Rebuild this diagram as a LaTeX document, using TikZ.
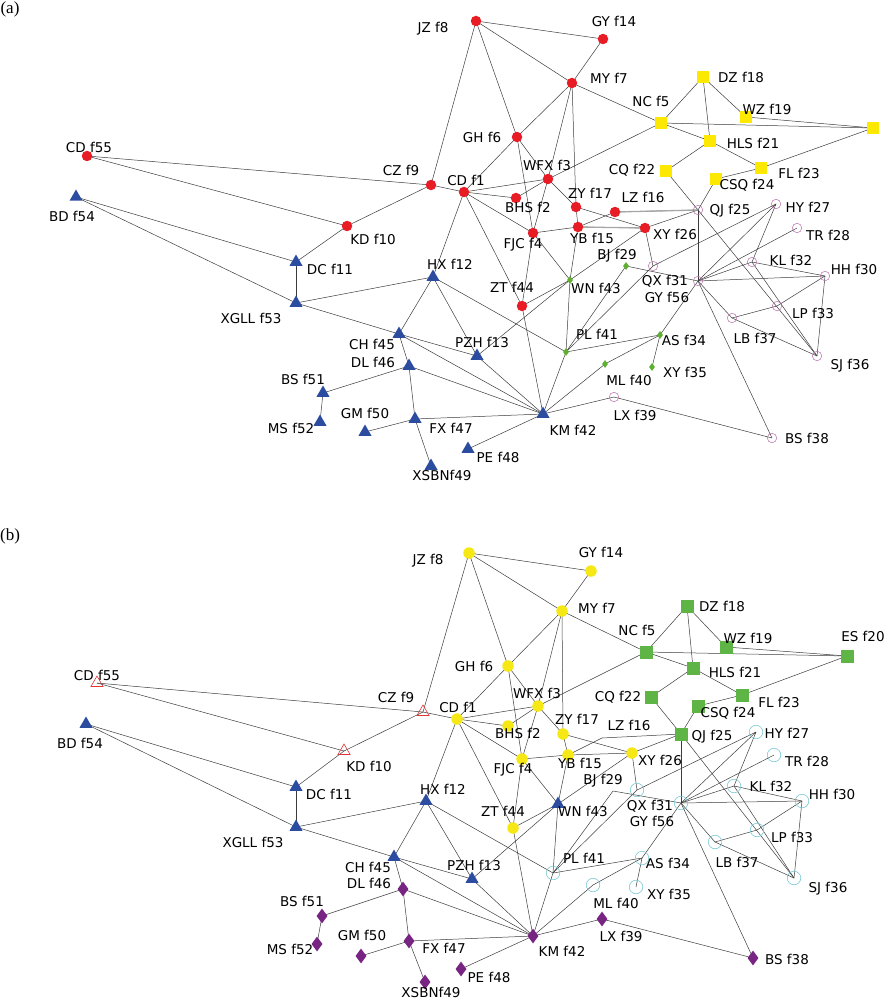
\documentclass[tikz,border=0pt]{standalone}
\usepackage{fontspec}
\newfontfamily\lblfont{DejaVu Sans}
\newfontfamily\panelfont{Liberation Serif}
\usetikzlibrary{shapes.geometric,backgrounds}
\definecolor{edgeGray}{RGB}{60,60,60}
\definecolor{dotRed}{RGB}{232,28,36}
\definecolor{sqYellow}{RGB}{252,232,0}
\definecolor{triBlue}{RGB}{44,76,160}
\definecolor{ringPink}{RGB}{185,110,170}
\definecolor{dmGreen}{RGB}{95,175,50}
\definecolor{dotYellow}{RGB}{246,232,20}
\definecolor{sqGreen}{RGB}{95,180,70}
\definecolor{ringCyan}{RGB}{120,200,212}
\definecolor{dmPurple}{RGB}{120,36,130}
\definecolor{triRed}{RGB}{226,52,52}
\tikzset{
    edge/.style={draw=edgeGray, line width=0.5pt},
    tie/.style={draw=gray!70, line width=1.3pt},
    lbl/.style={font=\lblfont\fontsize{13.5}{14}\selectfont, inner sep=0pt},
    panel/.style={font=\panelfont\fontsize{17}{18}\selectfont, inner sep=0pt},
    % panel (a)
    redDot/.style={circle, fill=dotRed, inner sep=0pt, minimum size=10.5pt},
    yelSq/.style={rectangle, fill=sqYellow, inner sep=0pt, minimum size=12.5pt},
    bluTri/.style={regular polygon, regular polygon sides=3, fill=triBlue, inner sep=0pt, minimum size=15pt},
    pinkRing/.style={circle, draw=ringPink, line width=0.5pt, inner sep=0pt, minimum size=9.5pt},
    grnDm/.style={diamond, fill=dmGreen, inner sep=0pt, minimum width=6pt, minimum height=8pt},
    % panel (b)
    yelDot/.style={circle, fill=dotYellow, inner sep=0pt, minimum size=11.5pt},
    grnSq/.style={rectangle, fill=sqGreen, inner sep=0pt, minimum size=13pt},
    cyanRing/.style={circle, draw=ringCyan, line width=0.6pt, inner sep=0pt, minimum size=13.5pt},
    purDm/.style={diamond, fill=dmPurple, inner sep=0pt, minimum width=11pt, minimum height=15pt},
    redTri/.style={regular polygon, regular polygon sides=3, draw=triRed, line width=0.6pt, inner sep=0pt, minimum size=14pt},
    noMark/.style={inner sep=0pt, minimum size=0pt},
}
% vertex: style, name, position, label position, label
\newcommand{\vtx}[5]{\node[#1] (#2) at (#3) {}; \node[lbl] (#2l) at (#4) {#5};}
% the ties, same in both panels
\newcommand{\netedges}[1]{%
  \foreach \u/\v in {8/14, 8/7, 8/6, 8/9, 14/7, 7/5, 7/6, 7/3, 7/17,
      5/18, 5/20, 5/21, 5/3, 18/19, 18/21, 19/20, 21/22, 21/23, 23/20, 23/24,
      24/25, 22/25, 25/36, 6/1, 6/3, 6/4, 3/1, 3/2, 3/4, 3/17,
      1/2, 1/4, 1/9, 1/12, 1/44, 17/15, 17/26, 16/25, 16/15,
      15/26, 15/4, 15/43, 26/25, 26/31, 26/43, 4/43, 4/44, 44/43, 44/42,
      43/13, 43/41, 41/29, 41/31, 41/34, 41/42, 41/12, 29/56, 31/27,
      56/25, 56/27, 56/28, 56/32, 56/30, 56/37, 56/38, 56/34,
      27/32, 32/30, 32/36, 30/33, 30/36, 33/37, 37/36,
      34/35, 34/40, 40/42, 42/39, 39/38,
      42/45, 42/46, 42/47, 42/48, 42/13,
      9/10, 9/55, 10/55, 10/11, 11/54, 11/53, 53/54, 53/12, 53/45,
      12/45, 12/13, 45/13, 45/46, 46/51, 46/47, 47/50, 47/49, 51/52}
    \draw[edge] (#1\u.center) -- (#1\v.center);
}

\begin{document}
\begin{tikzpicture}[x=1pt, y=-1pt]
\useasboundingbox (0,0) rectangle (884,1000);

%%% (a)
\node[panel] (pa) at (10,9) {(a)};
\vtx{redDot}{a1}{464,192}{466,180}{CD f1}
\vtx{redDot}{a2}{516,198}{528,207}{BHS f2}
\vtx{redDot}{a3}{548,179}{547,165}{WFX f3}
\vtx{redDot}{a4}{533,233}{523,245}{FJC f4}
\vtx{yelSq}{a5}{661,123}{651,101}{NC f5}
\vtx{redDot}{a6}{517,137}{482,137}{GH f6}
\vtx{redDot}{a7}{572,83}{609,78}{MY f7}
\vtx{redDot}{a8}{476,21}{433,29}{JZ f8}
\vtx{redDot}{a9}{431,185}{401,170}{CZ f9}
\vtx{redDot}{a10}{347,226}{373,239}{KD f10}
\vtx{bluTri}{a11}{296,262}{330,269}{DC f11}
\vtx{bluTri}{a12}{433,277}{450,264}{HX f12}
\vtx{bluTri}{a13}{477,356}{482,342}{PZH f13}
\vtx{redDot}{a14}{603,39}{614,21}{GY f14}
\vtx{redDot}{a15}{578,227}{592,238}{YB f15}
\vtx{redDot}{a16}{615,212}{643,197}{LZ f16}
\vtx{redDot}{a17}{576,207}{590,193}{ZY f17}
\vtx{yelSq}{a18}{703,77}{741,77}{DZ f18}
\vtx{yelSq}{a19}{746,117}{767,109}{WZ f19}
\node[yelSq] (a20) at (873,128) {};
\vtx{yelSq}{a21}{710,141}{753,143}{HLS f21}
\vtx{yelSq}{a22}{666,171}{632,170}{CQ f22}
\vtx{yelSq}{a23}{761,168}{799,173}{FL f23}
\vtx{yelSq}{a24}{716,179}{747,185}{CSQ f24}
\vtx{pinkRing}{a25}{698,210}{730,211}{QJ f25}
\vtx{redDot}{a26}{645,228}{675,234}{XY f26}
\vtx{pinkRing}{a27}{776,204}{808,207}{HY f27}
\vtx{pinkRing}{a28}{797,228}{828,235}{TR f28}
\vtx{grnDm}{a29}{626,266}{617,256}{BJ f29}
\vtx{pinkRing}{a30}{825,276}{854,269}{HH f30}
\vtx{pinkRing}{a31}{653,266}{665,281}{QX f31}
\vtx{pinkRing}{a32}{752,262}{791,260}{KL f32}
\vtx{pinkRing}{a33}{777,306}{813,313}{LP f33}
\vtx{grnDm}{a34}{660,335}{684,340}{AS f34}
\vtx{grnDm}{a35}{652,367}{685,372}{XY f35}
\vtx{pinkRing}{a36}{817,356}{850,366}{SJ f36}
\vtx{pinkRing}{a37}{732,318}{755,338}{LB f37}
\vtx{pinkRing}{a38}{772,438}{807,438}{BS f38}
\vtx{pinkRing}{a39}{614,397}{635,415}{LX f39}
\vtx{grnDm}{a40}{605,364}{629,380}{ML f40}
\vtx{grnDm}{a41}{566,352}{597,334}{PL f41}
\vtx{bluTri}{a42}{543,414}{573,430}{KM f42}
\vtx{grnDm}{a43}{570,280}{596,288}{WN f43}
\vtx{redDot}{a44}{522,306}{512,287}{ZT f44}
\vtx{bluTri}{a45}{399,334}{372,344}{CH f45}
\vtx{bluTri}{a46}{409,366}{373,362}{DL f46}
\vtx{bluTri}{a47}{415,419}{451,428}{FX f47}
\vtx{bluTri}{a48}{468,449}{498,457}{PE f48}
\vtx{bluTri}{a49}{431,466}{442,475}{XSBNf49}
\vtx{bluTri}{a50}{365,432}{365,413}{GM f50}
\vtx{bluTri}{a51}{323,393}{303,379}{BS f51}
\vtx{bluTri}{a52}{320,422}{291,428}{MS f52}
\vtx{bluTri}{a53}{296,303}{251,318}{XGLL f53}
\vtx{bluTri}{a54}{76,197}{72,216}{BD f54}
\vtx{redDot}{a55}{87,156}{89,147}{CD f55}
\vtx{pinkRing}{a56}{698,281}{667,297}{GY f56}

%%% (b)
\node[panel] (pb) at (10,536) {(b)};
\vtx{yelDot}{b1}{457,719}{458,707}{CD f1}
\vtx{yelDot}{b2}{508,726}{518,733}{BHS f2}
\vtx{yelDot}{b3}{538,706}{537,693}{WFX f3}
\vtx{yelDot}{b4}{522,759}{513,770}{FJC f4}
\vtx{grnSq}{b5}{646,652}{637,630}{NC f5}
\vtx{yelDot}{b6}{508,666}{474,666}{GH f6}
\vtx{yelDot}{b7}{562,611}{597,608}{MY f7}
\vtx{yelDot}{b8}{469,553}{428,561}{JZ f8}
\vtx{redTri}{b9}{423,712}{396,697}{CZ f9}
\vtx{redTri}{b10}{344,751}{369,766}{KD f10}
\vtx{bluTri}{b11}{296,787}{329,794}{DC f11}
\vtx{bluTri}{b12}{426,801}{443,789}{HX f12}
\vtx{bluTri}{b13}{472,879}{474,865}{PZH f13}
\vtx{yelDot}{b14}{591,571}{601,552}{GY f14}
\vtx{yelDot}{b15}{568,755}{580,763}{YB f15}
\vtx{noMark}{b16}{602,738}{629,725}{LZ f16}
\vtx{yelDot}{b17}{563,734}{577,719}{ZY f17}
\vtx{grnSq}{b18}{687,606}{722,606}{DZ f18}
\vtx{grnSq}{b19}{726,647}{748,638}{WZ f19}
\vtx{grnSq}{b20}{847,656}{863,636}{ES f20}
\vtx{grnSq}{b21}{693,668}{735,672}{HLS f21}
\vtx{grnSq}{b22}{651,697}{618,697}{CQ f22}
\vtx{grnSq}{b23}{742,695}{779,702}{FL f23}
\vtx{grnSq}{b24}{698,706}{728,713}{CSQ f24}
\vtx{grnSq}{b25}{681,734}{712,737}{QJ f25}
\vtx{yelDot}{b26}{632,753}{660,760}{XY f26}
\vtx{cyanRing}{b27}{756,732}{787,733}{HY f27}
\vtx{cyanRing}{b28}{774,755}{807,761}{TR f28}
\vtx{noMark}{b29}{613,791}{603,781}{BJ f29}
\vtx{cyanRing}{b30}{802,801}{832,794}{HH f30}
\vtx{cyanRing}{b31}{637,790}{650,806}{QX f31}
\vtx{cyanRing}{b32}{734,786}{771,786}{KL f32}
\vtx{cyanRing}{b33}{757,830}{792,837}{LP f33}
\vtx{cyanRing}{b34}{642,858}{668,863}{AS f34}
\vtx{cyanRing}{b35}{636,887}{669,894}{XY f35}
\vtx{cyanRing}{b36}{794,878}{828,889}{SJ f36}
\vtx{cyanRing}{b37}{715,842}{737,862}{LB f37}
\vtx{purDm}{b38}{753,958}{787,959}{BS f38}
\vtx{purDm}{b39}{602,919}{621,936}{LX f39}
\vtx{cyanRing}{b40}{593,885}{616,903}{ML f40}
\vtx{cyanRing}{b41}{553,873}{584,858}{PL f41}
\vtx{purDm}{b42}{533,936}{562,951}{KM f42}
\vtx{bluTri}{b43}{558,804}{583,811}{WN f43}
\vtx{yelDot}{b44}{513,828}{503,811}{ZT f44}
\vtx{bluTri}{b45}{394,857}{368,867}{CH f45}
\vtx{purDm}{b46}{403,889}{369,883}{DL f46}
\vtx{purDm}{b47}{409,941}{444,948}{FX f47}
\vtx{purDm}{b48}{461,969}{489,977}{PE f48}
\vtx{purDm}{b49}{425,982}{431,992}{XSBNf49}
\vtx{purDm}{b50}{361,956}{362,935}{GM f50}
\vtx{purDm}{b51}{322,916}{302,901}{BS f51}
\vtx{purDm}{b52}{317,944}{290,949}{MS f52}
\vtx{bluTri}{b53}{296,827}{253,842}{XGLL f53}
\vtx{bluTri}{b54}{86,724}{80,743}{BD f54}
\vtx{redTri}{b55}{97,683}{97,675}{CD f55}
\vtx{cyanRing}{b56}{681,803}{652,821}{GY f56}

\begin{pgfonlayer}{background}
  \netedges{a}
  \draw[tie] (a16.center) -- (a25.center);
  \draw[tie] (a15.center) -- (a26.center);
  \netedges{b}
\end{pgfonlayer}
\end{tikzpicture}
\end{document}
